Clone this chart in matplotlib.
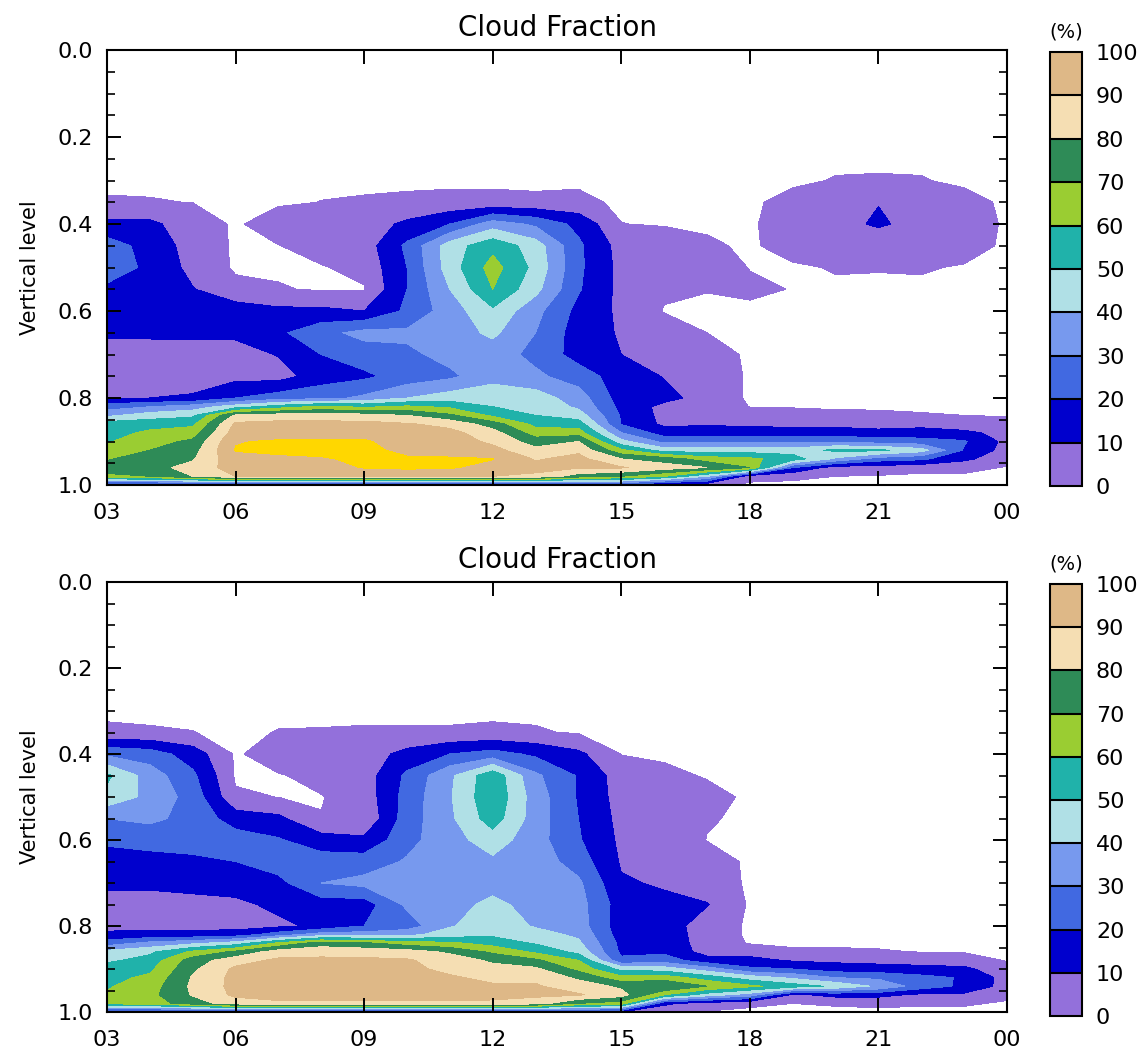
import numpy as np
import matplotlib
matplotlib.use('Agg')
import matplotlib.pyplot as plt
from matplotlib.colors import ListedColormap, BoundaryNorm
from matplotlib.cm import ScalarMappable
from matplotlib.ticker import MultipleLocator, FormatStrFormatter

# time axis (hours, 24 = 00 next day) and model levels
hours = [3, 4, 5, 6, 7, 8, 9, 10, 11, 12, 13, 14, 15, 16, 17, 18, 19, 20, 21, 22, 23, 24]
hour_ticks = [3, 6, 9, 12, 15, 18, 21, 24]
hour_labels = ['03', '06', '09', '12', '15', '18', '21', '00']
levels = [0.25, 0.30, 0.35, 0.40, 0.45, 0.50, 0.55, 0.60, 0.65, 0.70, 0.75,
          0.80, 0.82, 0.84, 0.86, 0.88, 0.90, 0.92, 0.94, 0.96, 0.98, 1.00]

# cloud fraction (%), one list per hour, values from top level to bottom level
cf_top = [
    [0, 0, 1.5, 12, 25, 25, 18, 15, 12, 5, 5, 10, 25, 38, 55, 56, 59, 64, 69, 74, 68, 8],
    [0, 0, 1.3, 12, 16, 18, 16, 15, 12, 5, 5, 10, 30, 45, 56, 62, 66, 70, 75, 77, 70, 8],
    [0, 0, 0.9, 5, 6, 7, 10.5, 15, 12, 6, 6, 11, 35, 48, 58, 65, 72, 76, 79, 83, 80, 8],
    [0, 0, 0, 0, 0, 0, 3, 15, 12, 6, 7, 20, 45, 82, 92, 95, 99.5, 100.5, 97, 95, 90, 8],
    [0, 0, 0, 5, 0.8, 0, 1.5, 12, 18, 10.5, 6, 25, 55, 85, 93, 96, 101, 102, 98, 96, 92, 8],
    [0, 0, 1.1, 5, 4, 0.5, 0.3, 12, 27, 20, 15, 27, 62, 85, 93, 97, 101, 103, 99, 96, 92, 8],
    [0, 0, 1.5, 5, 5, 3, 0.5, 10, 33, 25, 18, 32, 58, 84, 93, 97, 101, 102, 102, 100.5, 92, 8],
    [0, 0, 2, 12, 22, 20, 20, 22, 32, 28, 24, 40, 62, 80, 91, 94, 96, 98, 101, 101.5, 93, 8],
    [0, 0, 2.5, 20, 45, 45, 40, 35, 35, 33, 28, 45, 58, 72, 87, 93, 95, 97, 100.8, 100.8, 93, 8],
    [0, 0, 2.5, 35, 57, 64, 60, 48, 42, 35, 36, 47, 50, 58, 75, 84, 88, 93, 100.3, 97, 90, 8],
    [0, 0, 2, 28, 45, 47, 43, 33, 30, 27, 32, 45, 48, 50, 57, 65, 75, 83, 89, 93, 88, 8],
    [0, 0, 2.5, 17, 22, 22, 21, 17, 15, 16, 25, 35, 38, 45, 55, 65, 80, 88, 93, 91, 75, 12],
    [0, 0, 0, 1.1, 6, 7, 7, 8, 9, 10, 15, 15, 17, 19, 19.5, 30, 43, 62, 80, 91, 70, 15],
    [0, 0, 0, 0.5, 5, 5, 2, 0.6, 5, 6, 9.5, 13, 7, 7, 8, 15, 27, 45, 75, 85, 60, 5],
    [0, 0, 0, 0, 2, 4, 1.2, 0, 1, 4, 6, 6, 6, 7, 9, 15, 28, 45, 65, 80, 40, 3],
    [0, 0, 0, 0, 0, 0.8, 2, 0, 0, 0, 0, 0, 0.8, 5, 8, 15, 28, 45, 62, 70, 3, 0],
    [0, 0, 3, 5, 4, 0, 0.8, 0, 0, 0, 0, 0, 0.5, 4, 7, 15, 27, 45, 55, 20, 2, 0],
    [0, 1.3, 6, 8, 6, 1.5, 0, 0, 0, 0, 0, 0, 0, 3, 7, 15, 28, 52, 38, 5, 1, 0],
    [0, 1.5, 9.8, 10.8, 6, 1.3, 0, 0, 0, 0, 0, 0, 0, 2.5, 6, 13, 25, 52, 25, 5, 0.5, 0],
    [0, 1.3, 7, 8, 6, 1.5, 0, 0, 0, 0, 0, 0, 0, 1.5, 7, 14, 24, 44, 22, 3, 0, 0],
    [0, 0, 3, 5, 3.5, 0.5, 0, 0, 0, 0, 0, 0, 0, 1, 5, 12, 21, 19, 12, 3, 0, 0],
    [0, 0, 0, 0, 0, 0, 0, 0, 0, 0, 0, 0, 0, 0.5, 4, 7, 7, 6, 4, 0.5, 0, 0],
]

cf_bottom = [
    [0, 0, 2, 28, 52, 47, 30, 22, 15, 12, 6, 7, 12, 25, 43, 48, 55, 57, 59, 61, 63, 10],
    [0, 0, 1.5, 25, 35, 37, 32, 24, 16, 12, 6, 7, 13, 33, 48, 54, 58, 62, 65, 67, 65, 10],
    [0, 0, 1.1, 15, 22, 26, 27, 24, 18, 13, 7, 7, 13, 38, 62, 75, 78, 81, 82, 81, 75, 10],
    [0, 0, 0, 0, 0, 2, 15, 25, 20, 14, 8, 6, 15, 45, 72, 86, 92, 93, 93, 92, 85, 10],
    [0, 0, 1.2, 5, 0.5, 0.9, 12, 21, 25, 17, 12, 8, 25, 62, 85, 92, 94, 95, 95, 94, 88, 10],
    [0, 0, 1.3, 5, 3, 0.7, 1.2, 14, 25, 30, 15, 12, 35, 75, 87, 92, 95, 96, 96, 95, 88, 10],
    [0, 0, 1.5, 5, 5, 4, 1.5, 12, 25, 33, 15, 20, 35, 72, 86, 92, 93, 95, 96, 95, 88, 8],
    [0, 0, 1.5, 13, 22, 24, 25, 27, 31, 36, 32, 25, 37, 65, 85, 91, 92, 94, 95, 95, 88, 8],
    [0, 0, 1.5, 20, 38, 39, 38, 36, 34, 35, 37, 39, 45, 62, 78, 86, 88, 91, 93, 94, 88, 5],
    [0, 0, 2, 24, 57, 58, 55, 45, 38, 37, 42, 46, 48, 56, 68, 78, 84, 88, 91, 93, 88, 5],
    [0, 0, 1.5, 18, 32, 35, 35, 34, 36, 37, 37, 39, 44, 49, 58, 72, 82, 88, 91, 92, 85, 8],
    [0, 0, 0.5, 12, 19, 19, 20, 21, 25, 32, 34, 35, 38, 42, 47, 60, 67, 78, 85, 91, 70, 10],
    [0, 0, 0, 0.8, 5, 6, 7, 8, 9, 11, 15, 14, 15, 17, 18, 22, 47, 63, 78, 84, 65, 10],
    [0, 0, 0, 0, 2.5, 6, 6, 7, 7, 9, 12, 15, 16, 17, 18, 25, 45, 65, 80, 60, 12, 3],
    [0, 0, 0, 0, 0.5, 3, 1.5, 0.8, 4, 5, 10.5, 5, 5, 5, 6, 14, 35, 55, 70, 45, 5, 0.5],
    [0, 0, 0, 0, 0, 0, 0, 0, 0, 0, 0, 0, 0, 0.5, 6, 13, 22, 45, 62, 35, 2, 0],
    [0, 0, 0, 0, 0, 0, 0, 0, 0, 0, 0, 0, 0, 0, 2, 9, 20, 38, 55, 8, 1, 0],
    [0, 0, 0, 0, 0, 0, 0, 0, 0, 0, 0, 0, 0, 0, 2, 8, 15, 30, 48, 13, 1.5, 0],
    [0, 0, 0, 0, 0, 0, 0, 0, 0, 0, 0, 0, 0, 0, 1.5, 7, 14, 28, 38, 13, 2, 0],
    [0, 0, 0, 0, 0, 0, 0, 0, 0, 0, 0, 0, 0, 0, 0.8, 6, 13, 23, 25, 8, 1.5, 0],
    [0, 0, 0, 0, 0, 0, 0, 0, 0, 0, 0, 0, 0, 0, 0.5, 5, 12, 19, 18, 8, 1.5, 0],
    [0, 0, 0, 0, 0, 0, 0, 0, 0, 0, 0, 0, 0, 0, 0, 0.5, 4, 6, 6, 2, 0.5, 0],
]

fill_levels = [1, 10, 20, 30, 40, 50, 60, 70, 80, 90, 100]
cbar_bounds = [0, 10, 20, 30, 40, 50, 60, 70, 80, 90, 100]
band_colors = ['#9370DB', '#0000CD', '#4169E1', '#7799EE', '#B0E0E6',
               '#20B2AA', '#9ACD32', '#2E8B57', '#F5DEB3', '#DEB887']
over_color = '#FFD700'

W, H = 1146, 1062
fig = plt.figure(figsize=(W / 100, H / 100), dpi=100)


def px(x0, y0, x1, y1):
    return [x0 / W, 1 - y1 / H, (x1 - x0) / W, (y1 - y0) / H]


def panel(data, ax_box, cb_box, title_y):
    ax = fig.add_axes(px(*ax_box))
    z = np.array(data).T
    ax.contourf(hours, levels, z, levels=fill_levels,
                colors=band_colors + [over_color], extend='max')
    ax.set_xlim(3, 24)
    ax.set_ylim(1.0, 0.0)
    ax.set_xticks(hour_ticks)
    ax.set_xticklabels(hour_labels)
    ax.yaxis.set_major_locator(MultipleLocator(0.2))
    ax.yaxis.set_minor_locator(MultipleLocator(0.05))
    ax.yaxis.set_major_formatter(FormatStrFormatter('%.1f'))
    ax.tick_params(which='major', direction='in', length=10, width=1.4,
                   top=True, right=True, labelsize=16)
    ax.tick_params(which='minor', direction='in', length=6, width=1.2,
                   left=True, right=True)
    ax.tick_params(axis='x', pad=13)
    ax.tick_params(axis='y', pad=10)
    for s in ax.spines.values():
        s.set_linewidth(1.5)

    cx = (ax_box[0] + ax_box[2]) / 2
    fig.text(cx / W, 1 - title_y / H, 'Cloud Fraction', ha='center', va='center', fontsize=20)
    fig.text(30 / W, 1 - ((ax_box[1] + ax_box[3]) / 2) / H, 'Vertical level',
             rotation=90, ha='center', va='center', fontsize=15)

    cax = fig.add_axes(px(*cb_box))
    sm = ScalarMappable(norm=BoundaryNorm(cbar_bounds, len(band_colors)),
                        cmap=ListedColormap(band_colors))
    cb = fig.colorbar(sm, cax=cax, ticks=cbar_bounds, drawedges=True)
    cb.outline.set_linewidth(1.5)
    cb.dividers.set_linewidth(1.5)
    cb.ax.tick_params(length=0, pad=10, labelsize=16)
    cb.ax.set_yticklabels([str(v) for v in cbar_bounds])
    fig.text((cb_box[0] + cb_box[2]) / 2 / W, 1 - (cb_box[1] - 20) / H, '(%)',
             ha='center', va='center', fontsize=14)
    return ax


panel(cf_top, (107, 50, 1007, 485), (1050, 52, 1082, 486), 28)
panel(cf_bottom, (107, 582, 1007, 1012), (1050, 584, 1082, 1016), 560)

fig.savefig('out.png', dpi=100)
